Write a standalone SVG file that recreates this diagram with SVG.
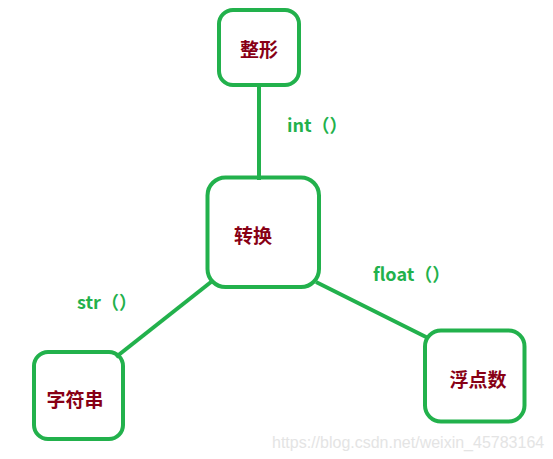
<svg xmlns="http://www.w3.org/2000/svg" width="553" height="459" viewBox="0 0 553 459">
<style>
.box{fill:none;stroke:#22b14c;stroke-width:4}
.ln{stroke:#22b14c;stroke-width:4;fill:none}
.nt{font-family:"Noto Sans CJK SC","Noto Sans",sans-serif;font-weight:bold;font-size:19px;fill:#880015;text-anchor:middle;dominant-baseline:central}
.lb{font-family:"Noto Sans CJK SC","Noto Sans",sans-serif;font-weight:bold;font-size:18px;fill:#22b14c}
.wm{font-family:"Liberation Sans",Arial,sans-serif;font-size:16px;fill:#e4e4e4}
</style>
<rect width="553" height="459" fill="#fff"/>
<g id="connectors">
<line class="ln" x1="259" y1="86" x2="259" y2="180"/>
<line class="ln" x1="211" y1="282" x2="116" y2="357"/>
<line class="ln" x1="316" y1="282" x2="428" y2="338"/>
</g>
<g id="n-zhengxing">
<rect class="box" x="219" y="10" width="80" height="75" rx="14"/>
<text class="nt" x="259" y="48">整形</text>
</g>
<g id="n-zhuanhuan">
<rect class="box" x="207.5" y="177.5" width="111.5" height="109.5" rx="18"/>
<text class="nt" x="253" y="234">转换</text>
</g>
<g id="n-zifuchuan">
<rect class="box" x="34" y="352" width="89" height="87" rx="14"/>
<text class="nt" x="75" y="398">字符串</text>
</g>
<g id="n-fudianshu">
<rect class="box" x="425" y="330.5" width="99.5" height="91" rx="16"/>
<text class="nt" x="478" y="378">浮点数</text>
</g>
<g id="labels">
<text class="lb" x="287" y="132">int（）</text>
<text class="lb" x="373" y="281">float（）</text>
<text class="lb" x="77" y="309">str（）</text>
</g>
<text class="wm" x="272" y="448">https://blog.csdn.net/weixin_45783164</text>
</svg>
